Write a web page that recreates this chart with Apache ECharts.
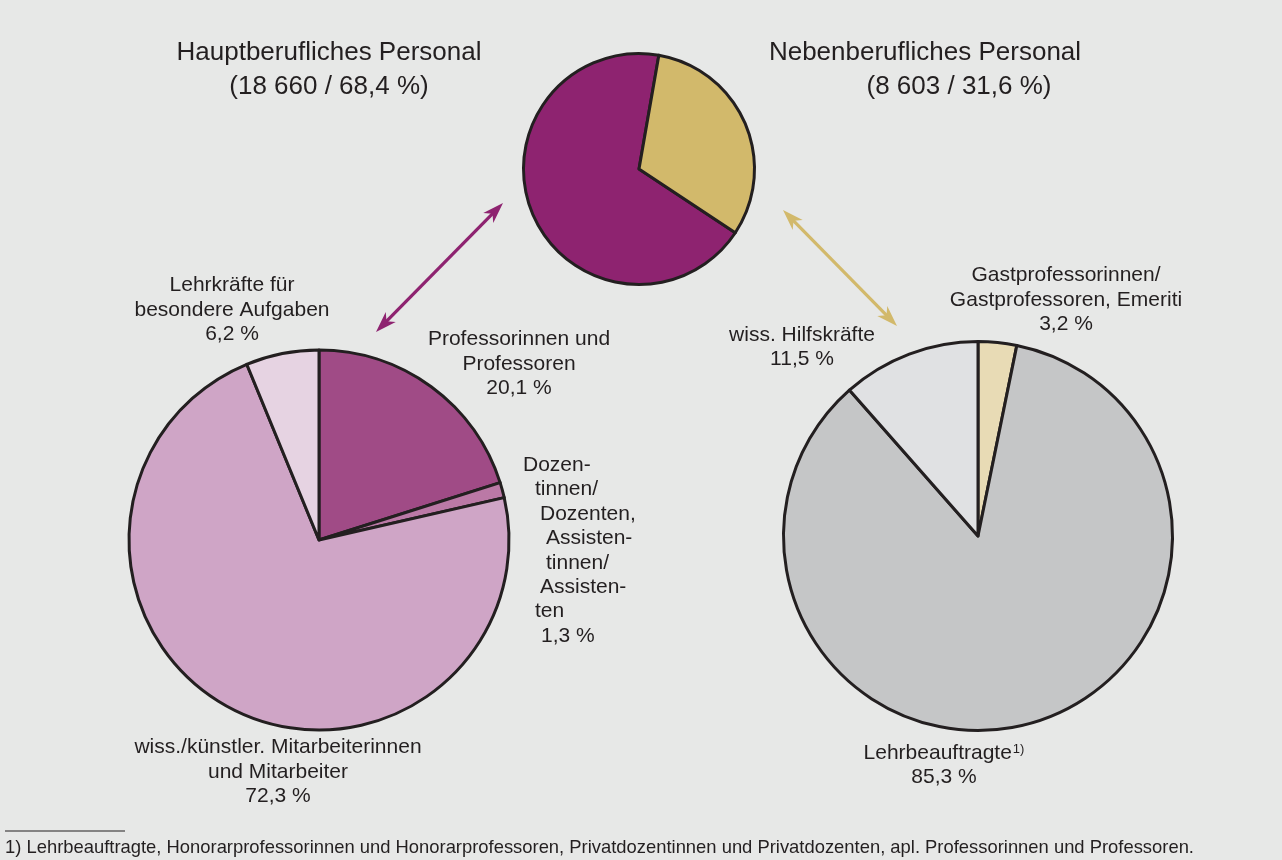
<!DOCTYPE html>
<html><head><meta charset="utf-8">
<script src="https://cdn.jsdelivr.net/npm/echarts@6/dist/echarts.min.js"></script>
<style>html,body{margin:0;padding:0;background:#e7e8e7}#c{width:1282px;height:860px}</style>
</head><body><div id="c"></div>
<script>
// ---- data ----
const topCategories = ['Hauptberufliches Personal', 'Nebenberufliches Personal'];
const topCounts = [18660, 8603];
const topShares = [68.4, 31.6];

const leftCategories = ['Professorinnen und Professoren', 'Dozentinnen/Dozenten, Assistentinnen/Assistenten', 'wiss./künstler. Mitarbeiterinnen und Mitarbeiter', 'Lehrkräfte für besondere Aufgaben'];
const leftLabelLines = [['Professorinnen und', 'Professoren'], ['Dozen-', 'tinnen/', 'Dozenten,', 'Assisten-', 'tinnen/', 'Assisten-', 'ten'], ['wiss./künstler. Mitarbeiterinnen', 'und Mitarbeiter'], ['Lehrkräfte für', 'besondere Aufgaben']];
const leftShares = [20.1, 1.3, 72.3, 6.2];

const rightCategories = ['Gastprofessorinnen/Gastprofessoren, Emeriti', 'Lehrbeauftragte', 'wiss. Hilfskräfte'];
const rightLabelLines = [['Gastprofessorinnen/', 'Gastprofessoren, Emeriti'], ['Lehrbeauftragte'], ['wiss. Hilfskräfte']];
const rightShares = [3.2, 85.3, 11.5];
const rightFootnoteMarks = ['', '1)', ''];

const footnote = '1) Lehrbeauftragte, Honorarprofessorinnen und Honorarprofessoren, Privatdozentinnen und Privatdozenten, apl. Professorinnen und Professoren.';

// ---- styles / layout ----
const INK = '#231f20';
const FONT = '"Liberation Sans", Arial, Helvetica, sans-serif';
const topColors = ['#8e2370', '#d2b96b'];
const leftColors = ['#a04b86', '#bb79a6', '#cfa5c6', '#e6d3e2'];
const rightColors = ['#e8dbb5', '#c5c6c7', '#e0e1e3'];

const labelPos = [
  [{x: 329, y: 70}, {x: 925, y: 70}],
  [{x: 519, y: 364}, {x: 523, y: 453, align: 'left', va: 'top'}, {x: 278, y: 772}, {x: 232, y: 310}],
  [{x: 1066, y: 300}, {x: 944, y: 765}, {x: 802, y: 347}]
];
const dozIndent = [0, 12, 17, 23, 23, 17, 12, 18];

const de = v => String(v).replace('.', ',');
const thousands = n => String(n).replace(/\B(?=(\d{3})+(?!\d))/g, ' ');

const rich = {
  t: {fontSize: 26, lineHeight: 33.5, color: INK, fontFamily: FONT},
  t2: {fontSize: 26, lineHeight: 33.5, color: INK, fontFamily: FONT, padding: [0, 0, 0, 68]},
  n: {fontSize: 21, lineHeight: 24.5, color: INK, fontFamily: FONT},
  s: {fontSize: 13, lineHeight: 16, color: INK, fontFamily: FONT, verticalAlign: 'top', padding: [2, 0, 0, 1]}
};
dozIndent.forEach(d => { rich['d' + d] = {fontSize: 21, lineHeight: 24.4, color: INK, fontFamily: FONT, padding: [0, 0, 0, d]}; });

function topLabel(i) {
  const l2 = '(' + thousands(topCounts[i]) + ' / ' + de(topShares[i]) + ' %)';
  return '{t|' + topCategories[i] + '}\n' + (i === 1 ? '{t2|' + l2 + '}' : '{t|' + l2 + '}');
}
function leftLabel(i) {
  const lines = leftLabelLines[i].concat([de(leftShares[i]) + ' %']);
  if (i === 1) return lines.map((l, k) => '{d' + dozIndent[k] + '|' + l + '}').join('\n');
  return lines.map(l => '{n|' + l + '}').join('\n');
}
function rightLabel(i) {
  const lines = rightLabelLines[i].map(l => '{n|' + l + '}');
  if (rightFootnoteMarks[i]) lines[lines.length - 1] += '{s|' + rightFootnoteMarks[i] + '}';
  lines.push('{n|' + de(rightShares[i]) + ' %}');
  return lines.join('\n');
}

function pieSeries(idx, names, values, colors, center, radius, startAngle, fmt) {
  return {
    type: 'pie', center: center, radius: radius, startAngle: startAngle, clockwise: true,
    animation: false, avoidLabelOverlap: false, silent: true,
    itemStyle: {borderColor: INK, borderWidth: 3},
    label: {show: true, position: 'outside', formatter: p => fmt(p.dataIndex), rich: rich, color: INK, align: 'center'},
    labelLine: {show: false},
    emphasis: {disabled: true},
    labelLayout: p => {
      const q = labelPos[idx][p.dataIndex];
      return {x: q.x, y: q.y, align: q.align || 'center', verticalAlign: q.va || 'middle', hideOverlap: false, moveOverlap: null};
    },
    data: names.map((n, i) => ({name: n, value: values[i], itemStyle: {color: colors[i]}}))
  };
}

function arrow(x1, y1, x2, y2, color) {
  const dx = x2 - x1, dy = y2 - y1, len = Math.hypot(dx, dy);
  const ux = dx / len, uy = dy / len, px = -uy, py = ux;
  const L = 21, W = 7, N = 15;
  const head = (tx, ty, sx, sy) => [
    [tx, ty],
    [tx + sx * L + px * W, ty + sy * L + py * W],
    [tx + sx * N, ty + sy * N],
    [tx + sx * L - px * W, ty + sy * L - py * W]
  ];
  return [
    {type: 'line', shape: {x1: x1 + ux * 12, y1: y1 + uy * 12, x2: x2 - ux * 12, y2: y2 - uy * 12}, style: {stroke: color, lineWidth: 3.2}, silent: true},
    {type: 'polygon', shape: {points: head(x1, y1, ux, uy)}, style: {fill: color}, silent: true},
    {type: 'polygon', shape: {points: head(x2, y2, -ux, -uy)}, style: {fill: color}, silent: true}
  ];
}

const chart = echarts.init(document.getElementById('c'), null, {renderer: 'canvas'});
chart.setOption({
  backgroundColor: '#e7e8e7',
  animation: false,
  series: [
    pieSeries(0, topCategories, topCounts, topColors, [639, 169], 115.5, -33.5, topLabel),
    pieSeries(1, leftCategories, leftShares, leftColors, [319, 540], 190, 90, leftLabel),
    pieSeries(2, rightCategories, rightShares, rightColors, [978, 536], 194.5, 90, rightLabel)
  ],
  graphic: [
    ...arrow(376, 332, 503, 203, '#8e2370'),
    ...arrow(783, 210, 897, 326, '#d2b96b'),
    {type: 'line', shape: {x1: 5, y1: 831, x2: 125, y2: 831}, style: {stroke: INK, lineWidth: 1.2}, silent: true},
    {type: 'text', x: 5, y: 848, style: {text: footnote, font: '18.4px ' + FONT, fill: INK, textVerticalAlign: 'middle', verticalAlign: 'middle'}, silent: true}
  ]
});
</script>
</body></html>
